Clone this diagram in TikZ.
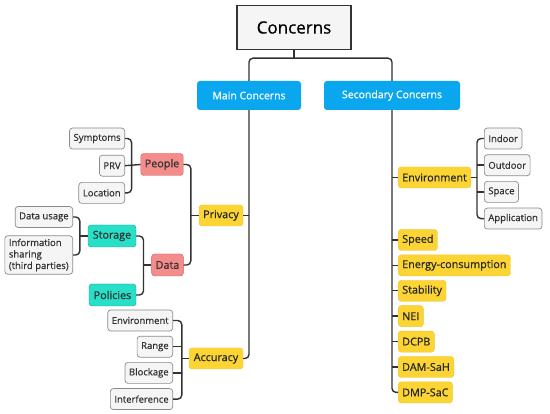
\documentclass[tikz,border=0pt]{standalone}
\usepackage{fontspec}
\setmainfont{Open Sans}[FakeBold=0.6]
\usepackage{tikz}
\usetikzlibrary{positioning}
\definecolor{topblue}{RGB}{10, 166, 238}
\definecolor{leafyellow}{RGB}{252, 213, 53}
\definecolor{pinkfill}{RGB}{245, 140, 140}
\definecolor{pinkline}{RGB}{200, 95, 95}
\definecolor{tealfill}{RGB}{40, 224, 200}
\definecolor{tealline}{RGB}{20, 160, 140}
\definecolor{greyfill}{RGB}{245, 245, 245}
\definecolor{greyline}{RGB}{140, 140, 140}
\definecolor{inkgrey}{RGB}{50, 50, 50}

\begin{document}
\begin{tikzpicture}[
    x=1pt, y=-1pt,
    box/.style={rectangle, rounded corners=3pt, inner xsep=4pt, inner ysep=0pt,
                minimum height=21pt, text centered, text=inkgrey},
    rootbox/.style={rectangle, draw=black!80, fill=greyfill, line width=1.3pt,
                    minimum width=114pt, minimum height=44pt, font=\fontsize{17}{20}\selectfont, text=black},
    bluebox/.style={box, fill=topblue, text=white, minimum height=29pt, font=\fontsize{10.5}{12}\selectfont},
    yelbox/.style={box, fill=leafyellow, draw=leafyellow!90!black!60!leafyellow, text=black!85,
                   font=\fontsize{10.8}{12}\selectfont},
    pinkbox/.style={box, fill=pinkfill, draw=pinkline, minimum height=22pt, font=\fontsize{10.8}{12}\selectfont},
    tealbox/.style={box, fill=tealfill, draw=tealline, minimum height=22pt, font=\fontsize{10.8}{12}\selectfont},
    leafbox/.style={box, fill=greyfill, draw=greyline, line width=0.7pt, font=\fontsize{9.5}{11.5}\selectfont},
    link/.style={draw=inkgrey, line width=1.4pt, rounded corners=4pt},
]
\useasboundingbox[fill=white] (0,0) rectangle (550,414);

% top levels
\node[rootbox] (root) at (294,27.5) {Concerns};
\node[bluebox, minimum width=104pt] (main) at (249,95.5) {Main Concerns};
\node[bluebox, minimum width=136pt] (sec)  at (392,95.5) {Secondary Concerns};

% main concerns side
\node[yelbox, minimum width=44pt] (priv) at (221,215.5) {Privacy};
\node[yelbox, minimum width=54pt] (acc)  at (216,358.5) {Accuracy};
\node[pinkbox, minimum width=42pt] (people) at (162,164.5) {People};
\node[pinkbox, minimum width=31pt] (data)   at (167.5,265) {Data};
\node[tealbox, minimum width=48pt] (stor) at (112,236) {Storage};
\node[tealbox, minimum width=47pt] (pol)  at (112.5,295) {Policies};

\node[leafbox, anchor=east] (sym) at (125,138.5) {Symptoms};
\node[leafbox, below=5.5pt of sym.south east, anchor=north east] (prv) {PRV};
\node[leafbox, below=5.5pt of prv.south east, anchor=north east] (loc) {Location};

\node[leafbox, anchor=east] (usage) at (73,217) {Data usage};
\node[leafbox, anchor=east, align=left, inner ysep=3pt] (share) at (73,255)
    {Information\\sharing\\(third parties)};

\node[leafbox, anchor=east] (aenv) at (173,320.5) {Environment};
\node[leafbox, below=4.5pt of aenv.south east, anchor=north east] (range)  {Range};
\node[leafbox, below=4.5pt of range.south east, anchor=north east] (block) {Blockage};
\node[leafbox, below=4.5pt of block.south east, anchor=north east] (interf) {Interference};

% secondary concerns side
\node[yelbox, anchor=west] (senv) at (398,177.5) {Environment};
\node[yelbox, anchor=west] (speed) at (398,240) {Speed};
\node[yelbox, below=4pt of speed.south west, anchor=north west] (energy) {Energy-consumption};
\node[yelbox, below=4pt of energy.south west, anchor=north west] (stab) {Stability};
\node[yelbox, below=4pt of stab.south west, anchor=north west] (nei) {NEI};
\node[yelbox, below=4pt of nei.south west, anchor=north west] (dcpb) {DCPB};
\node[yelbox, below=4pt of dcpb.south west, anchor=north west] (dam) {DAM-SaH};
\node[yelbox, below=4pt of dam.south west, anchor=north west] (dmp) {DMP-SaC};

\node[leafbox, anchor=west] (indoor) at (484,138.5) {Indoor};
\node[leafbox, below=5pt of indoor.south west, anchor=north west] (outdoor) {Outdoor};
\node[leafbox, below=5pt of outdoor.south west, anchor=north west] (space) {Space};
\node[leafbox, below=5pt of space.south west, anchor=north west] (app) {Application};

% bracket points
\coordinate (split)    at ([yshift=-8pt]root.south);
\coordinate (peoplebar) at ([xshift=-9pt]people.west);
\coordinate (privbar)  at ([xshift=-8pt]priv.west);
\coordinate (storbar)  at ([xshift=-8pt]stor.west);
\coordinate (databar)  at ([xshift=-8pt]data.west);
\coordinate (accbar)   at ([xshift=-7pt]acc.west);
\coordinate (envbar)   at ([xshift=-7pt]indoor.west |- senv.east);

% connectors
\draw[link] (root.south) -- (split);
\draw[link] (main.north) |- (split) -| (sec.north);

\draw[link] (main.south) |- (acc.east);
\draw[link] (priv.east) -- (priv.east -| main.south);

\draw[link] (sym.east) -| (peoplebar) |- (loc.east);
\draw[link] (prv.east) -- (people.west);
\draw[link] (people.east) -| (privbar) |- (data.east);
\draw[link] (privbar) -- (priv.west);
\draw[link] (usage.east) -| (storbar) |- (share.east);
\draw[link] (storbar) -- (stor.west);
\draw[link] (stor.east) -| (databar) |- (pol.east);
\draw[link] (databar) -- (data.west);
\draw[link] (aenv.east) -| (accbar) |- (interf.east);
\draw[link] (accbar) -- (acc.west);
\foreach \n in {range, block}
    \draw[link] (\n.east) -- (\n.east -| accbar);

\draw[link] (sec.south) |- (dmp.west);
\foreach \n in {senv, speed, energy, stab, nei, dcpb, dam}
    \draw[link] (\n.west -| sec.south) -- (\n.west);
\draw[link] (indoor.west) -| (envbar) |- (app.west);
\draw[link] (senv.east) -- (envbar);
\foreach \n in {outdoor, space}
    \draw[link] (\n.west -| envbar) -- (\n.west);

\end{tikzpicture}
\end{document}
